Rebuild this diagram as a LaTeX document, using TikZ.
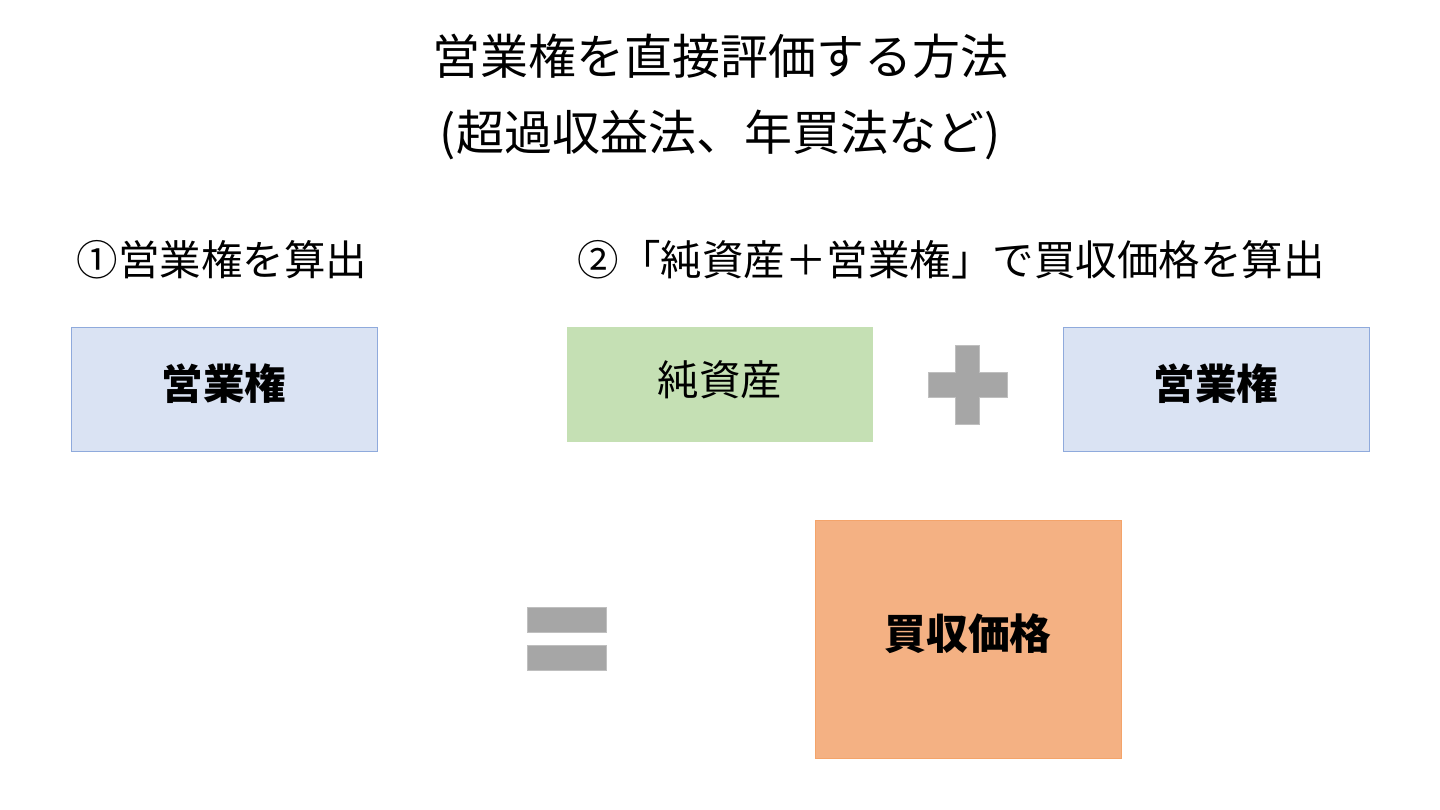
\documentclass[tikz,border=0pt]{standalone}
\usepackage{fontspec}
\setmainfont{Noto Sans CJK JP}
\usepackage{tikz}

\definecolor{boxblue}{HTML}{DAE3F3}
\definecolor{lineblue}{HTML}{8FAADC}
\definecolor{boxgreen}{HTML}{C5E0B4}
\definecolor{boxorange}{HTML}{F4B183}
\definecolor{lineorange}{HTML}{F4A46A}
\definecolor{signgray}{HTML}{A6A6A6}
\definecolor{signline}{HTML}{BFBFBF}

\begin{document}
\begin{tikzpicture}[x=1pt, y=-1pt, every node/.style={inner sep=0pt, outer sep=0pt},
		boxtext/.style={text height=33pt, text depth=11.5pt}]
			\useasboundingbox (0,0) rectangle (1440,810);

			% Headings
			\node[font=\fontsize{48}{56}\selectfont] (title) at (720,56) {営業権を直接評価する方法};
			\node[font=\fontsize{48}{56}\selectfont] (subtitle) at (720,135) {(超過収益法、年買法など)};
			\node[font=\fontsize{41.5}{48}\selectfont] (stepone) at (222,260) {①営業権を算出};
			\node[font=\fontsize{41.5}{48}\selectfont] (steptwo) at (951,260) {②「純資産＋営業権」で買収価格を算出};

			% Boxes
			\node[boxtext, draw=lineblue, fill=boxblue, minimum width=306pt, minimum height=124pt, font=\fontsize{41.5}{48}\selectfont\bfseries] (gw) at (224,389) {営業権};
			\node[boxtext, fill=boxgreen, minimum width=306pt, minimum height=115pt, font=\fontsize{41.5}{48}\selectfont] (na) at (720,384.5) {純資産};
			\node[boxtext, draw=lineblue, fill=boxblue, minimum width=306pt, minimum height=124pt, font=\fontsize{41.5}{48}\selectfont\bfseries] (gwtwo) at (1216,389) {営業権};
			\node[boxtext, draw=lineorange, fill=boxorange, minimum width=306pt, minimum height=238pt, font=\fontsize{41.8}{48}\selectfont\bfseries] (price) at (968,639) {買収価格};

			% Signs
			\filldraw[fill=signgray, draw=signline] (955,345) -- (979,345) -- (979,372) -- (1007,372) -- (1007,397) -- (979,397) -- (979,424) -- (955,424) -- (955,397) -- (928,397) -- (928,372) -- (955,372) -- cycle;
			\filldraw[fill=signgray, draw=signline] (527,607) rectangle (606,632);
			\filldraw[fill=signgray, draw=signline] (527,645) rectangle (606,670);
		\end{tikzpicture}
\end{document}
